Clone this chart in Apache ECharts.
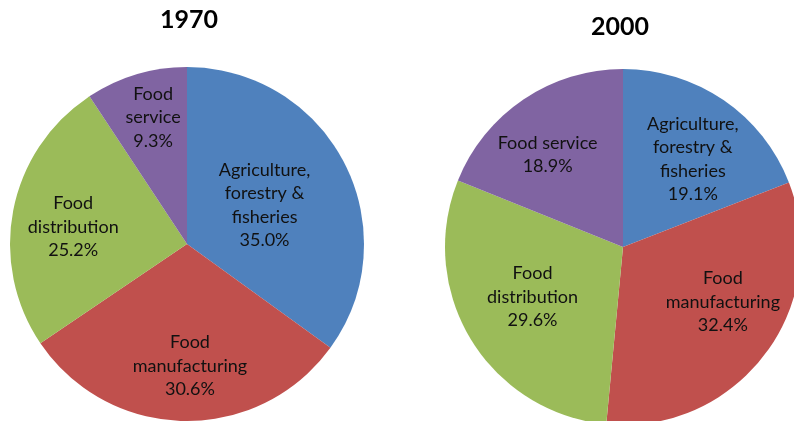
<!DOCTYPE html>
<html>
<head>
<meta charset="utf-8">
<script src="https://cdn.jsdelivr.net/npm/echarts@6/dist/echarts.min.js"></script>
<style>
  html, body { margin: 0; padding: 0; background: #ffffff; }
  #chart { width: 794px; height: 421px; }
</style>
</head>
<body>
<div id="chart"></div>
<script>
// Food system shares, by sector, clockwise from 12 o'clock
const sectors = ['Agriculture, forestry & fisheries', 'Food manufacturing', 'Food distribution', 'Food service'];
const years = ['1970', '2000'];
const shares1970 = [35.0, 30.6, 25.2, 9.3];
const shares2000 = [19.1, 32.4, 29.6, 18.9];

// Label wording as it breaks inside each slice
const labelText1970 = ['Agriculture,\nforestry &\nfisheries', 'Food\nmanufacturing', 'Food\ndistribution', 'Food\nservice'];
const labelText2000 = ['Agriculture,\nforestry &\nfisheries', 'Food\nmanufacturing', 'Food\ndistribution', 'Food service'];

// Styling
const sliceColors = ['#4F81BD', '#C0504D', '#9BBB59', '#8064A2'];
const FONT = 'Lato, "Open Sans", sans-serif';
const pies = [
  { center: [187, 244], radius: 177, titleX: 189, titleY: 7 },
  { center: [623, 247], radius: 178, titleX: 620, titleY: 14 }
];
// Where each slice's label sits: [fraction of radius, angle clockwise from 12 o'clock]
const labelSpots = [
  [[0.49, 63.4], [0.69, 178.6], [0.65, 278.5], [0.74, 345]],
  [[0.63, 38.5], [0.64, 118.8], [0.58, 241.2], [0.67, 320.8]]
];

const chart = echarts.init(document.getElementById('chart'), null, { renderer: 'canvas' });

function pieSeries(i, values, labels) {
  const p = pies[i];
  return {
    type: 'pie',
    name: years[i],
    center: p.center,
    radius: p.radius,
    startAngle: 90,
    clockwise: true,
    animation: false,
    silent: true,
    color: sliceColors,
    itemStyle: { borderWidth: 0 },
    emphasis: { disabled: true },
    labelLine: { show: false },
    label: {
      show: true,
      position: 'inside',
      align: 'center',
      verticalAlign: 'middle',
      fontFamily: FONT,
      fontSize: 18,
      lineHeight: 23.5,
      color: '#111111',
      formatter: (d) => labels[d.dataIndex] + '\n' + d.value.toFixed(1) + '%'
    },
    labelLayout: (params) => {
      const spot = labelSpots[i][params.dataIndex];
      const a = spot[1] * Math.PI / 180;
      const d = spot[0] * p.radius;
      return { x: p.center[0] + d * Math.sin(a), y: p.center[1] - d * Math.cos(a) };
    },
    data: values.map((v, k) => ({ name: sectors[k], value: v }))
  };
}

chart.setOption({
  backgroundColor: '#ffffff',
  animation: false,
  title: years.map((y, i) => ({
    text: y,
    left: pies[i].titleX,
    top: pies[i].titleY,
    textAlign: 'center',
    padding: 0,
    textStyle: { fontFamily: FONT, fontSize: 25, fontWeight: 'bold', color: '#000000' }
  })),
  series: [
    pieSeries(0, shares1970, labelText1970),
    pieSeries(1, shares2000, labelText2000)
  ]
});
</script>
</body>
</html>
